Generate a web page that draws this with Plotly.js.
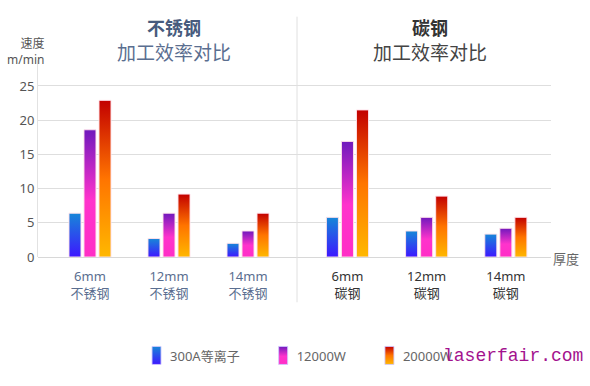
<!DOCTYPE html>
<html>
<head>
<meta charset="utf-8">
<script src="https://cdn.plot.ly/plotly-3.0.1.min.js"></script>
<style>html,body{margin:0;padding:0;background:#fff;}#chart{width:590px;height:386px;}</style>
</head>
<body>
<svg width="0" height="0" style="position:absolute">
  <defs>
    <linearGradient id="gBlue" x1="0" y1="0" x2="0" y2="1">
      <stop offset="0" stop-color="#1787d8"/>
      <stop offset="1" stop-color="#3d17ff"/>
    </linearGradient>
    <linearGradient id="gPink" x1="0" y1="0" x2="0" y2="1">
      <stop offset="0" stop-color="#7019bd"/>
      <stop offset="0.55" stop-color="#ff33cc"/>
      <stop offset="1" stop-color="#ff2ec6"/>
    </linearGradient>
    <linearGradient id="gRed" x1="0" y1="0" x2="0" y2="1">
      <stop offset="0" stop-color="#c20000"/>
      <stop offset="0.5" stop-color="#ff7400"/>
      <stop offset="1" stop-color="#ffb800"/>
    </linearGradient>
  </defs>
</svg>
<div id="chart"></div>
<script>
// Categories
var catsStainless = ['6mm<br>不锈钢', '12mm<br>不锈钢', '14mm<br>不锈钢'];
var catsCarbon = ['6mm<br>碳钢', '12mm<br>碳钢', '14mm<br>碳钢'];
var seriesNames = ['300A等离子', '12000W', '20000W'];

// Values (m/min)
var plasmaStainless = [6.4, 2.7, 2.0];
var w12000Stainless = [18.6, 6.4, 3.8];
var w20000Stainless = [22.9, 9.2, 6.4];
var plasmaCarbon = [5.8, 3.8, 3.35];
var w12000Carbon = [16.9, 5.8, 4.2];
var w20000Carbon = [21.5, 8.9, 5.8];

var yTicks = [0, 5, 10, 15, 20, 25];

var flatColors = ['#2a50f0', '#d02ad0', '#ff6a00'];
var gradIds = ['gBlue', 'gPink', 'gRed'];
var border = {color: 'rgba(255,225,235,0.95)', width: 1};

function bar(x, y, i, xa, show) {
  return {
    type: 'bar', x: x, y: y, name: seriesNames[i], xaxis: xa, yaxis: 'y',
    legendgroup: 'g' + i, showlegend: show,
    marker: {color: flatColors[i], line: border},
    hoverinfo: 'skip'
  };
}

var data = [
  bar(catsStainless, plasmaStainless, 0, 'x', true),
  bar(catsStainless, w12000Stainless, 1, 'x', true),
  bar(catsStainless, w20000Stainless, 2, 'x', true),
  bar(catsCarbon, plasmaCarbon, 0, 'x2', false),
  bar(catsCarbon, w12000Carbon, 1, 'x2', false),
  bar(catsCarbon, w20000Carbon, 2, 'x2', false)
];

var baseFont = 'Noto Sans, Noto Sans CJK SC, sans-serif';
var cjk = 'Noto Sans CJK SC, sans-serif';
var split = 259 / 513;

var layout = {
  width: 590, height: 386,
  margin: {l: 38, r: 39, t: 60, b: 129},
  paper_bgcolor: '#fff', plot_bgcolor: '#fff',
  font: {family: baseFont, color: '#555', size: 13},
  barmode: 'group', bargap: 0.43, bargroupgap: 0.2,
  showlegend: true,
  legend: {orientation: 'h', x: 0.156, xanchor: 'left', y: -0.5, yanchor: 'middle',
           font: {family: baseFont, color: '#666', size: 13}, itemwidth: 42,
           itemclick: false, itemdoubleclick: false},
  xaxis: {domain: [0, split], anchor: 'y', type: 'category', range: [-0.658, 2.62],
          showgrid: false, zeroline: false, showline: false, ticks: '', ticklabelstandoff: 10,
          tickfont: {family: baseFont, color: '#5a6e90', size: 13}},
  xaxis2: {domain: [split, 1], anchor: 'y', type: 'category', range: [-0.637, 2.57],
           showgrid: false, zeroline: false, showline: false, ticks: '', ticklabelstandoff: 10,
           tickfont: {family: baseFont, color: '#333', size: 13}},
  yaxis: {range: [0, 28.8], tickvals: yTicks, showgrid: true, gridcolor: '#dedede',
          gridwidth: 1, zeroline: true, zerolinecolor: '#d8d8d8', zerolinewidth: 1,
          showline: true, linecolor: '#e2e2e2', linewidth: 1, ticks: '',
          tickfont: {family: baseFont, color: '#555', size: 13}},
  shapes: [
    {type: 'line', xref: 'paper', yref: 'paper', x0: split, x1: split,
     y0: -0.23, y1: 1.22, line: {color: '#e0e0e0', width: 1}}
  ],
  annotations: [
    {text: '<b>不锈钢</b>', xref: 'paper', yref: 'paper', x: 0.266, y: 1.165,
     showarrow: false, font: {family: cjk, size: 18, color: '#475b7d'}, xanchor: 'center', yanchor: 'middle'},
    {text: '加工效率对比', xref: 'paper', yref: 'paper', x: 0.266, y: 1.045,
     showarrow: false, font: {family: cjk, size: 19, color: '#5a6e90'}, xanchor: 'center', yanchor: 'middle'},
    {text: '<b>碳钢</b>', xref: 'paper', yref: 'paper', x: 0.764, y: 1.165,
     showarrow: false, font: {family: cjk, size: 18, color: '#333'}, xanchor: 'center', yanchor: 'middle'},
    {text: '加工效率对比', xref: 'paper', yref: 'paper', x: 0.764, y: 1.045,
     showarrow: false, font: {family: cjk, size: 19, color: '#444'}, xanchor: 'center', yanchor: 'middle'},
    {text: '速度<br>m/min', xref: 'paper', yref: 'paper', x: 0.016, y: 0.949, align: 'right',
     showarrow: false, font: {family: baseFont, size: 12, color: '#555'}, xanchor: 'right', yanchor: 'bottom'},
    {text: '厚度', xref: 'paper', yref: 'paper', x: 1.0, y: -0.01, align: 'left',
     showarrow: false, font: {family: cjk, size: 13, color: '#666'}, xanchor: 'left', yanchor: 'middle'},
    {text: 'laserfair.com', xref: 'paper', yref: 'paper', x: 1.066, y: -0.5, align: 'right',
     showarrow: false, font: {family: 'Liberation Mono, DejaVu Sans Mono, monospace', size: 18, color: '#a3128e'},
     xanchor: 'right', yanchor: 'middle'}
  ]
};

function applyGradients(gd) {
  var traces = gd.querySelectorAll('.barlayer .trace');
  traces.forEach(function (t, i) {
    var gid = gradIds[i % 3];
    t.querySelectorAll('.point path').forEach(function (p) {
      p.style.fill = 'url(#' + gid + ')';
    });
  });
  var leg = gd.querySelectorAll('.legend .traces');
  leg.forEach(function (t, i) {
    t.querySelectorAll('.legendpoints path').forEach(function (p) {
      p.setAttribute('d', 'M17,9H8V-9H17Z');
      p.style.fill = 'url(#' + gradIds[i % 3] + ')';
      p.style.stroke = 'rgba(210,200,255,0.9)';
      p.style.strokeWidth = '1px';
    });
  });
}

Plotly.newPlot('chart', data, layout, {displayModeBar: false, staticPlot: true}).then(function (gd) {
  applyGradients(gd);
});
</script>
</body>
</html>
